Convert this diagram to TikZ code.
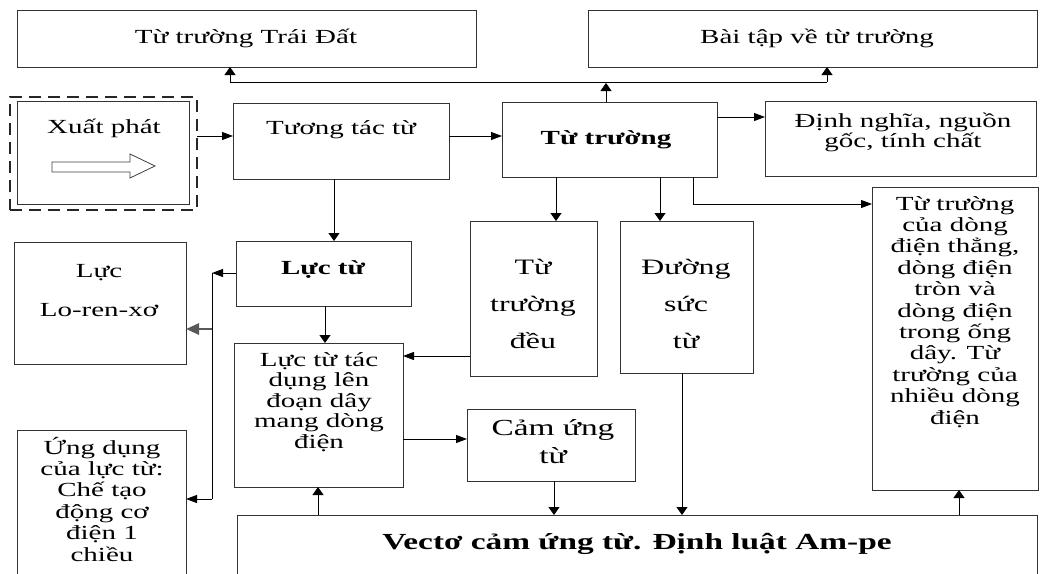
\documentclass[tikz,border=0pt]{standalone}
\usepackage{fontspec}
\setmainfont{Liberation Serif}[FakeStretch=1.45]
\usetikzlibrary{arrows.meta}
\newcommand\myst{\rule{0pt}{1.1em}}
\begin{document}
\begin{tikzpicture}[x=1pt,y=-1pt,
  box/.style={draw=black!80, line width=0.9pt, inner sep=0pt, outer sep=0pt, anchor=north west},
  dashbox/.style={draw=black!85, line width=2.8pt, dash pattern=on 12pt off 7pt, inner sep=0pt, outer sep=0pt, anchor=north west},
  lab/.style={inner sep=0pt, outer sep=0pt, anchor=north, align=center, text=black},
  fa/.style={font={\fontsize{20}{21.4}\selectfont\lineskiplimit=-100pt}},
  fb/.style={font={\fontsize{20}{20.5}\selectfont\lineskiplimit=-100pt}},
  fn/.style={font={\fontsize{20}{20}\selectfont\lineskiplimit=-100pt}},
  fl/.style={font={\fontsize{20}{39}\selectfont\lineskiplimit=-100pt}},
  fw/.style={font={\fontsize{22}{37}\selectfont\lineskiplimit=-100pt}},
  fc/.style={font={\fontsize{23}{28}\selectfont\lineskiplimit=-100pt}},
  fv/.style={font={\fontsize{23}{28}\selectfont\bfseries}},
  wire/.style={line width=0.9pt, draw=black},
  harr/.style={wire, -{Triangle[length=11pt,width=8pt]}},
  varr/.style={wire, -{Triangle[length=8pt,width=11pt]}},
  tharr/.style={line width=2.8pt, draw=black!65, -{Triangle[length=13pt,width=11pt]}}
]
\useasboundingbox (0,0) rectangle (1040,573);

% boxes
\node[box, minimum width=459pt, minimum height=57pt] (trai) at (17,10) {};
\node[box, minimum width=449pt, minimum height=57pt] (bai) at (588,10) {};
\node[dashbox, minimum width=187pt, minimum height=113pt] (xo) at (10,97) {};
\node[box, minimum width=172pt, minimum height=103pt] (xi) at (17,101) {};
\node[box, minimum width=216pt, minimum height=76pt] (tuong) at (233,103) {};
\node[box, minimum width=215pt, minimum height=75pt] (tt) at (502,102) {};
\node[box, minimum width=271pt, minimum height=75pt] (dinh) at (765,101) {};
\node[box, minimum width=166pt, minimum height=303pt] (dong) at (872,187) {};
\node[box, minimum width=175pt, minimum height=65pt] (luc) at (236,241) {};
\node[box, minimum width=127pt, minimum height=155pt] (tdeu) at (470,221) {};
\node[box, minimum width=133pt, minimum height=152pt] (dsuc) at (620,221) {};
\node[box, minimum width=172pt, minimum height=122pt] (lor) at (14,242) {};
\node[box, minimum width=169pt, minimum height=150pt] (ung) at (17,430) {};
\node[box, minimum width=169pt, minimum height=144pt] (ltd) at (234,343) {};
\node[box, minimum width=168pt, minimum height=72pt] (cam) at (467,409) {};
\node[box, minimum width=800pt, minimum height=70pt] (vec) at (237,515) {};

% texts
\node[lab, fa] (ttrai) at (246,21) {\myst Từ trường Trái Đất};
\node[lab, fa] (tbai) at (817,21) {\myst Bài tập về từ trường};
\node[lab, fa] (txuat) at (104,111) {\myst Xuất phát};
\node[lab, fa] (ttuong) at (341,112) {\myst Tương tác từ};
\node[lab, fa] (ttt) at (606,122) {\myst\bfseries Từ trường};
\node[lab, fn] (tdinh) at (903,105) {\myst Định nghĩa, nguồn\\gốc, tính chất};
\node[lab, fa] (tdong) at (955,188) {\myst Từ trường\\của dòng\\điện thẳng,\\dòng điện\\tròn và\\dòng điện\\trong ống\\dây. Từ\\trường của\\nhiều dòng\\điện};
\node[lab, fa] (tluc) at (323,252) {\myst\bfseries Lực từ};
\node[lab, fw] (ttdeu) at (533,250.4) {\myst Từ\\trường\\đều};
\node[lab, fw] (tdsuc) at (686,250.4) {\myst Đường\\sức\\từ};
\node[lab, fl] (tlor) at (99,255) {\myst Lực\\Lo-ren-xơ};
\node[lab, fa] (tung) at (102,432) {\myst Ứng dụng\\của lực từ:\\Chế tạo\\động cơ\\điện 1\\chiều};
\node[lab, fb] (tltd) at (319,344) {\myst Lực từ tác\\dụng lên\\đoạn dây\\mang dòng\\điện};
\node[lab, fc] (tcam) at (553,410.6) {\myst Cảm ứng\\từ};
\node[lab, fv] (tvec) at (637,524.6) {\myst Vectơ cảm ứng từ. Định luật Am-pe};

% hollow arrow in the start box
\draw[line width=0.8pt, draw=black!75, fill=white] (52,162) -- (130,162) -- (130,154) -- (155,166) -- (130,178) -- (130,172) -- (52,172) -- cycle;

% helper coordinates
\coordinate (r136) at (0,136);
\coordinate (r117) at (0,117);
\coordinate (r204) at (0,204);
\coordinate (r329) at (0,329);
\coordinate (r356) at (0,356);
\coordinate (r439) at (0,439);
\coordinate (j1) at (606,83);
\coordinate (bl) at (230,82);
\coordinate (br) at (827,82);
\coordinate (x556) at (556,0);
\coordinate (x660) at (660,0);
\coordinate (x693) at (693,0);
\coordinate (x334) at (334,0);
\coordinate (x325) at (325,0);
\coordinate (x554) at (554,0);
\coordinate (x682) at (682,0);
\coordinate (x318) at (318,0);
\coordinate (x959) at (959,0);
\coordinate (v1) at (212,273);
\coordinate (v2) at (212,499);

% connectors
\draw[harr] (xo.east |- r136) -- (tuong.west |- r136);
\draw[harr] (tuong.east |- r136) -- (tt.west |- r136);
\draw[harr] (tt.east |- r117) -- (dinh.west |- r117);
\draw[varr] (tt.north -| j1) -- (j1);
\draw[wire] (bl) -- (br);
\draw[varr] (bl) -- (bl |- trai.south);
\draw[varr] (br) -- (br |- bai.south);
\draw[varr] (tt.south -| x556) -- (tdeu.north -| x556);
\draw[varr] (tt.south -| x660) -- (dsuc.north -| x660);
\draw[harr] (tt.south -| x693) |- (dong.west |- r204);
\draw[varr] (tuong.south -| x334) -- (luc.north -| x334);
\draw[varr] (luc.south -| x325) -- (ltd.north -| x325);
\draw[harr] (luc.west |- v1) -- (v1);
\draw[wire] (v1) -- (v2);
\draw[tharr] (v1 |- r329) -- (lor.east |- r329);
\draw[harr] (v2) -- (ung.east |- v2);
\draw[harr] (tdeu.west |- r356) -- (ltd.east |- r356);
\draw[harr] (ltd.east |- r439) -- (cam.west |- r439);
\draw[varr] (cam.south -| x554) -- (vec.north -| x554);
\draw[varr] (dsuc.south -| x682) -- (vec.north -| x682);
\draw[varr] (vec.north -| x318) -- (ltd.south -| x318);
\draw[varr] (vec.north -| x959) -- (dong.south -| x959);
\end{tikzpicture}
\end{document}
